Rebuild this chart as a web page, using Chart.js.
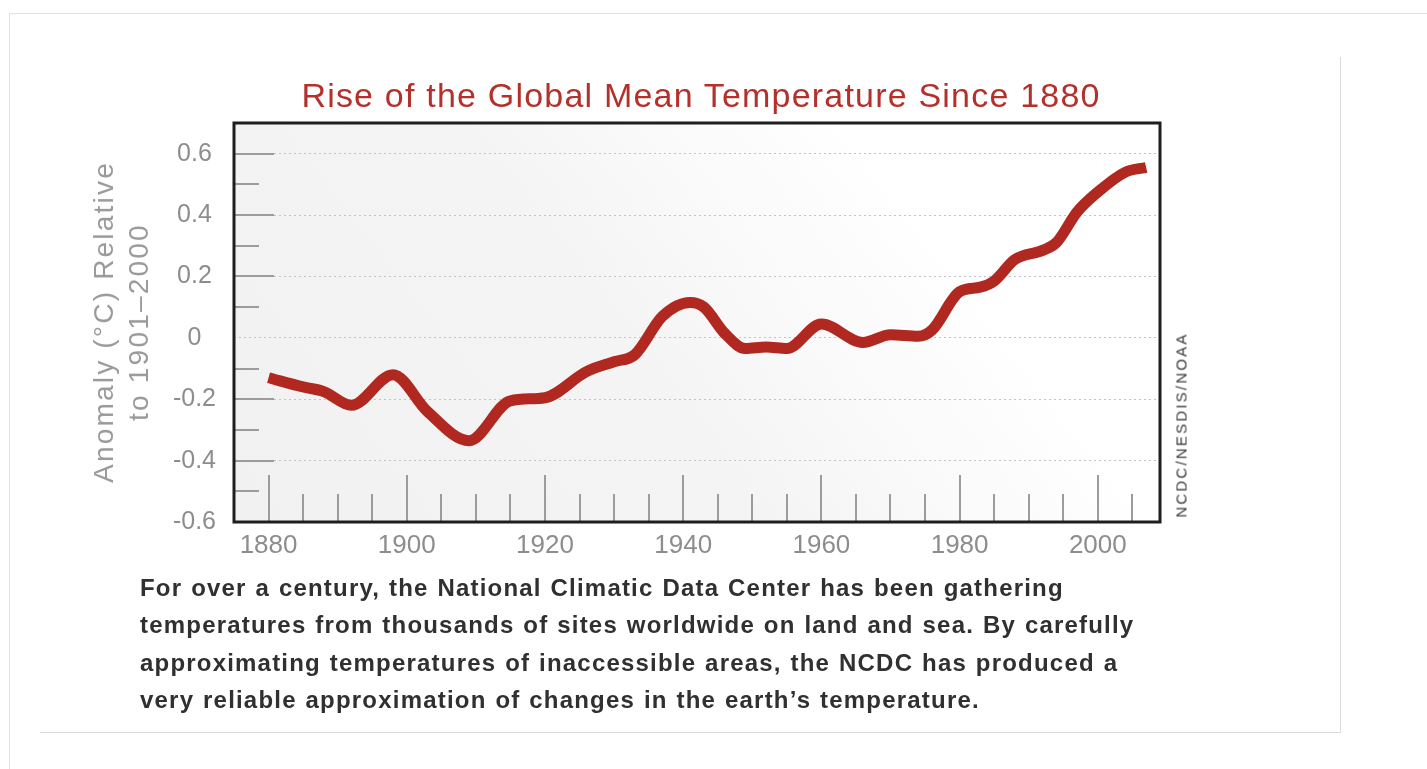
<!DOCTYPE html>
<html>
<head>
<meta charset="utf-8">
<title>Rise of the Global Mean Temperature Since 1880</title>
<script src="https://cdn.jsdelivr.net/npm/chart.js@4.4.1/dist/chart.umd.min.js"></script>
<style>
html, body { margin: 0; padding: 0; background: #fff; }
body { width: 1427px; height: 769px; position: relative; overflow: hidden; font-family: "Liberation Sans", Arial, sans-serif; }
#frame { position: absolute; left: 9px; top: 13px; width: 1418px; height: 756px; border-top: 1px solid #e2e2e2; border-left: 1px solid #e2e2e2; }
#panel { position: absolute; left: 40px; top: 57px; width: 1300px; height: 675px; border-right: 1px solid #dcdcdc; border-bottom: 1px solid #dcdcdc; }
#chart { position: absolute; left: 0; top: 0; }
#title { position: absolute; left: 701px; top: 95px; transform: translate(-50%, -50%); white-space: nowrap;
  font-size: 34px; letter-spacing: 1.2px; color: #b3302b; }
#ytitle { position: absolute; left: 121px; top: 322px; transform: translate(-50%, -50%) rotate(-90deg); white-space: nowrap;
  text-align: center; font-size: 28px; line-height: 35px; letter-spacing: 2.2px; color: #9a9a9a; }
#source { position: absolute; left: 1181px; top: 425px; transform: translate(-50%, -50%) rotate(-90deg);
  font-size: 15px; letter-spacing: 2.2px; color: #3a3a3a; white-space: nowrap; }
#caption { position: absolute; left: 140px; top: 569px; margin: 0; font-weight: bold; font-size: 24px;
  letter-spacing: 1.2px; word-spacing: 1px; line-height: 37.3px; color: #303030; white-space: nowrap; }
</style>
</head>
<body>
<div id="frame"></div>
<div id="panel"></div>
<canvas id="chart" width="1427" height="769"></canvas>
<div id="title">Rise of the Global Mean Temperature Since 1880</div>
<div id="ytitle">Anomaly (°C) Relative<br>to 1901–2000</div>
<div id="source">NCDC/NESDIS/NOAA</div>
<p id="caption">For over a century, the National Climatic Data Center has been gathering<br>
temperatures from thousands of sites worldwide on land and sea. By carefully<br>
approximating temperatures of inaccessible areas, the NCDC has produced a<br>
very reliable approximation of changes in the earth’s temperature.</p>
<script>
// smoothed anomaly curve
var years = [1880, 1885, 1888, 1892, 1898, 1903, 1909, 1915, 1920, 1926, 1930, 1933, 1937, 1941, 1943, 1946,
             1949, 1952, 1955, 1960, 1966, 1970, 1974, 1976, 1980, 1983, 1985, 1988, 1992, 1994, 1997, 2000, 2004, 2007];
var anomalies = [-0.13, -0.16, -0.175, -0.22, -0.12, -0.24, -0.335, -0.205, -0.195, -0.11, -0.078, -0.055, 0.07, 0.115, 0.1, 0.015,
                 -0.035, -0.03, -0.035, 0.045, -0.015, 0.01, 0.005, 0.025, 0.15, 0.165, 0.185, 0.255, 0.285, 0.31, 0.41, 0.475, 0.54, 0.555];

// axis ticks
var xTicks = [1880, 1900, 1920, 1940, 1960, 1980, 2000];
var xMinorTicks = [1880, 1885, 1890, 1895, 1900, 1905, 1910, 1915, 1920, 1925, 1930, 1935, 1940, 1945, 1950,
                   1955, 1960, 1965, 1970, 1975, 1980, 1985, 1990, 1995, 2000, 2005];
var yTicks = [-0.6, -0.4, -0.2, 0, 0.2, 0.4, 0.6];
var yMinorTicks = [-0.5, -0.4, -0.3, -0.2, -0.1, 0.1, 0.2, 0.3, 0.4, 0.5, 0.6];

var points = years.map(function (y, i) { return { x: y, y: anomalies[i] }; });

// light diagonal shading, inner tick marks and the black frame
var decor = {
    id: 'decor',
    beforeDraw: function (chart) {
        var a = chart.chartArea, ctx = chart.ctx;
        var g = ctx.createLinearGradient(a.left, a.bottom, a.left + 720, a.bottom - 560);
        g.addColorStop(0, '#f1f1f1');
        g.addColorStop(0.45, '#f4f4f4');
        g.addColorStop(0.8, '#ffffff');
        ctx.save();
        ctx.fillStyle = g;
        ctx.fillRect(a.left, a.top, a.right - a.left, a.bottom - a.top);
        ctx.restore();
    },
    beforeDatasetsDraw: function (chart) {
        var a = chart.chartArea, ctx = chart.ctx;
        var xs = chart.scales.x, ys = chart.scales.y;
        ctx.save();
        ctx.strokeStyle = '#9c9c9c';
        ctx.lineWidth = 2;
        ctx.beginPath();
        xMinorTicks.forEach(function (v) {
            var px = Math.round(xs.getPixelForValue(v));
            var len = xTicks.indexOf(v) >= 0 ? 47 : 28;
            ctx.moveTo(px, a.bottom);
            ctx.lineTo(px, a.bottom - len);
        });
        yMinorTicks.forEach(function (v) {
            var py = Math.round(ys.getPixelForValue(v));
            var len = yTicks.indexOf(v) >= 0 ? 40 : 25;
            ctx.moveTo(a.left, py);
            ctx.lineTo(a.left + len, py);
        });
        ctx.stroke();
        ctx.restore();
    },
    afterDatasetsDraw: function (chart) {
        var a = chart.chartArea, ctx = chart.ctx;
        ctx.save();
        ctx.strokeStyle = '#1e1e1e';
        ctx.lineWidth = 3;
        ctx.strokeRect(a.left, a.top, a.right - a.left, a.bottom - a.top);
        ctx.restore();
    }
};

var font = '"Liberation Sans", Arial, sans-serif';
var ctx = document.getElementById('chart').getContext('2d');

var tempChart = new Chart(ctx, {
    type: 'line',
    data: {
        datasets: [{
            data: points,
            borderColor: '#b0281f',
            borderWidth: 11,
            pointRadius: 0,
            fill: false,
            cubicInterpolationMode: 'monotone',
            clip: false
        }]
    },
    options: {
        responsive: false,
        animation: false,
        devicePixelRatio: 1,
        layout: { padding: { left: 70, right: 267, top: 123, bottom: 207 } },
        plugins: {
            legend: { display: false },
            tooltip: { enabled: false },
            title: { display: false }
        },
        scales: {
            x: {
                type: 'linear',
                min: 1875,
                max: 2009,
                afterBuildTicks: function (s) { s.ticks = xTicks.map(function (v) { return { value: v }; }); },
                afterFit: function (s) { s.height = 40; },
                grid: { display: false },
                border: { display: false },
                ticks: {
                    color: '#8d8d8d',
                    padding: 0,
                    maxRotation: 0,
                    autoSkip: false,
                    font: { family: font, size: 26 },
                    callback: function (v) { return String(v); }
                }
            },
            y: {
                min: -0.6,
                max: 0.7,
                afterBuildTicks: function (s) { s.ticks = yTicks.map(function (v) { return { value: v }; }); },
                afterFit: function (s) { s.width = 164; },
                grid: { color: '#c2c2cc', lineWidth: 1, drawTicks: false },
                border: { display: false, dash: [2, 3] },
                ticks: {
                    color: '#8d8d8d',
                    padding: 18,
                    crossAlign: 'center',
                    font: { family: font, size: 25 },
                    callback: function (v) { return v === 0 ? '0' : v.toFixed(1); }
                }
            }
        }
    },
    plugins: [decor]
});
</script>
</body>
</html>
